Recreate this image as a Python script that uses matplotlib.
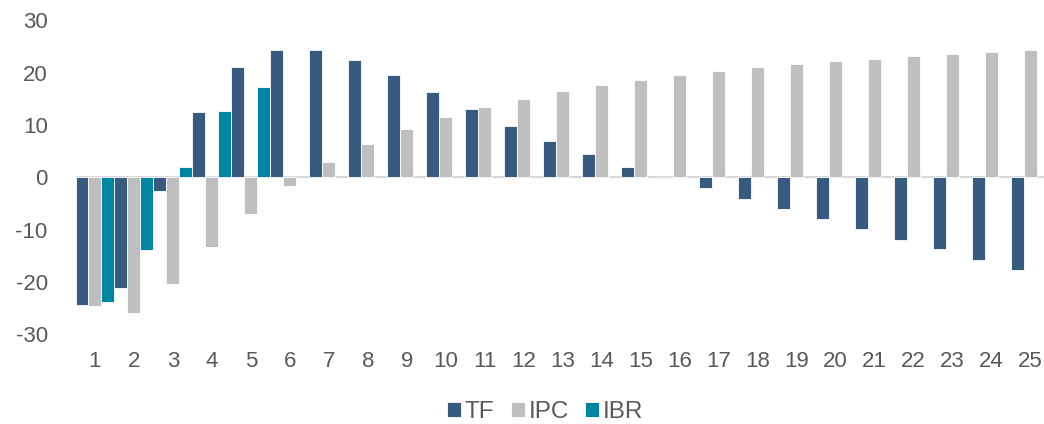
import numpy as np
import matplotlib.pyplot as plt

# Series values per period
periods = [str(i) for i in range(1, 26)]
tf = [-24.4, -21.2, -2.6, 12.4, 21.0, 24.3, 24.3, 22.4, 19.5, 16.3,
      13.0, 9.9, 6.9, 4.4, 2.0, -0.2, -2.1, -4.1, -6.1, -8.0,
      -9.9, -11.9, -13.8, -15.8, -17.7]
ipc = [-24.6, -25.9, -20.4, -13.4, -7.0, -1.6, 2.9, 6.4, 9.2, 11.6,
       13.4, 15.0, 16.5, 17.6, 18.6, 19.5, 20.3, 21.0, 21.7, 22.2,
       22.7, 23.1, 23.6, 24.0, 24.3]
ibr = [-23.8, -13.9, 2.0, 12.6, 17.3] + [np.nan] * 20

series = [("TF", tf, "#365B7E"), ("IPC", ipc, "#BFBFBF"), ("IBR", ibr, "#0086A3")]

plt.rcParams['font.family'] = ['Liberation Sans', 'DejaVu Sans']
plt.rcParams['axes.unicode_minus'] = False

fig = plt.figure(figsize=(10.44, 4.24), dpi=100)
ax = fig.add_axes([75.5 / 1044, 1 - 334.2 / 424, 974 / 1044, (334.2 - 20.4) / 424])

x = np.arange(1, len(periods) + 1)
w = 1 / 3
for k, (name, vals, col) in enumerate(series):
    ax.bar(x + (k - 1) * w, vals, width=w, color=col, edgecolor="white",
           linewidth=0.6, label=name, zorder=2)

ax.axhline(0, color="#D9D9D9", linewidth=1.6, zorder=1)
ax.set_xlim(0.5, 25.5)
ax.set_ylim(-30, 30)
ax.set_yticks(range(-30, 31, 10))
ax.set_xticks(x)
ax.set_xticklabels(periods)
ax.tick_params(axis="both", length=0, labelsize=16, labelcolor="#595959")
ax.tick_params(axis="x", pad=12)
ax.tick_params(axis="y", pad=20)
for s in ax.spines.values():
    s.set_visible(False)

handles, labels = ax.get_legend_handles_labels()
fig.legend(handles, labels, loc="center", bbox_to_anchor=(545 / 1044, 1 - 412 / 424),
           ncol=3, frameon=False, fontsize=17.5, handlelength=0.58,
           handleheight=0.58, handletextpad=0.15, columnspacing=0.66,
           labelcolor="#595959")

fig.savefig("out.png", dpi=100)
